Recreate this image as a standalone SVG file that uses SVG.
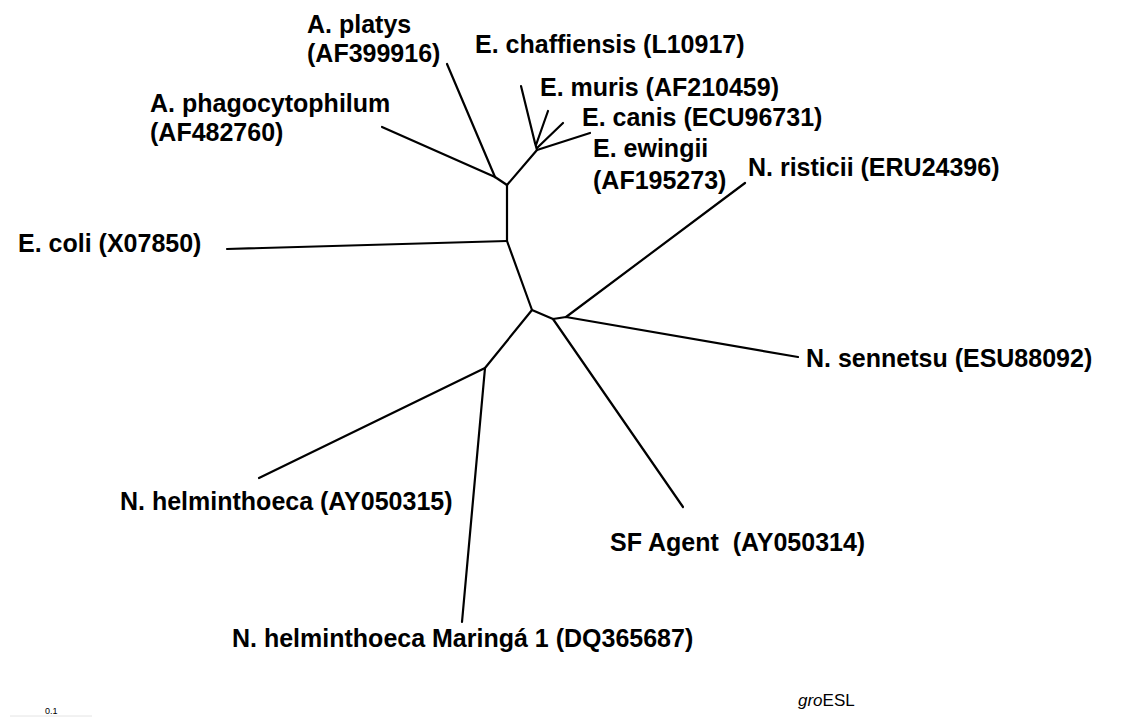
<svg xmlns="http://www.w3.org/2000/svg" width="1130" height="718" viewBox="0 0 1130 718">
<style>
.lbl{font-family:"Liberation Sans",Arial,sans-serif;font-weight:bold;font-size:25px;fill:#000}
.br{stroke:#000;stroke-width:2.2;fill:none;stroke-linecap:round;stroke-linejoin:round}
.small{font-family:"Liberation Sans",Arial,sans-serif;fill:#000}
</style>
<rect width="1130" height="718" fill="#fff"/>
<g id="connectors" class="br">
<line x1="447" y1="64" x2="495" y2="177"/>
<line x1="382" y1="127" x2="495" y2="177"/>
<line x1="495" y1="177" x2="507" y2="185"/>
<line x1="507" y1="185" x2="537" y2="150"/>
<line x1="521" y1="86" x2="535" y2="143"/>
<line x1="535" y1="143" x2="537" y2="150"/>
<line x1="536" y1="145" x2="548" y2="111"/>
<line x1="537" y1="148" x2="563" y2="123"/>
<line x1="537" y1="150" x2="590" y2="133"/>
<line x1="507" y1="185" x2="507" y2="241"/>
<line x1="227" y1="249" x2="507" y2="241"/>
<line x1="507" y1="241" x2="532" y2="310"/>
<line x1="532" y1="310" x2="553" y2="319"/>
<line x1="553" y1="319" x2="566" y2="317"/>
<line x1="566" y1="317" x2="745" y2="183"/>
<line x1="566" y1="317" x2="798" y2="357"/>
<line x1="553" y1="319" x2="683" y2="507"/>
<line x1="532" y1="310" x2="485" y2="368"/>
<line x1="485" y1="368" x2="259" y2="478"/>
<line x1="485" y1="368" x2="462" y2="622"/>
</g>
<g id="n-platys"><text class="lbl" x="307" y="33">A. platys</text><text class="lbl" x="307" y="62">(AF399916)</text></g>
<g id="n-chaffiensis"><text class="lbl" x="475" y="53">E. chaffiensis (L10917)</text></g>
<g id="n-muris"><text class="lbl" x="540" y="96">E. muris (AF210459)</text></g>
<g id="n-canis"><text class="lbl" x="582" y="126">E. canis (ECU96731)</text></g>
<g id="n-ewingii"><text class="lbl" x="593" y="157">E. ewingii</text><text class="lbl" x="593" y="189">(AF195273)</text></g>
<g id="n-phago"><text class="lbl" x="150" y="112">A. phagocytophilum</text><text class="lbl" x="150" y="141">(AF482760)</text></g>
<g id="n-risticii"><text class="lbl" x="748" y="176">N. risticii (ERU24396)</text></g>
<g id="n-coli"><text class="lbl" x="18" y="252">E. coli (X07850)</text></g>
<g id="n-sennetsu"><text class="lbl" x="806" y="367">N. sennetsu (ESU88092)</text></g>
<g id="n-helminthoeca"><text class="lbl" x="120" y="510">N. helminthoeca (AY050315)</text></g>
<g id="n-sf"><text class="lbl" x="610" y="551" xml:space="preserve">SF Agent  (AY050314)</text></g>
<g id="n-maringa"><text class="lbl" x="232" y="647" font-size="26">N. helminthoeca Maringá 1 (DQ365687)</text></g>
<g id="title"><text class="small" x="798" y="706" font-size="17"><tspan font-style="italic">gro</tspan>ESL</text></g>
<g id="scale"><text class="small" x="45" y="714" font-size="9">0.1</text><line x1="10" y1="716" x2="92" y2="716" stroke="#e4e4e4" stroke-width="1"/></g>
</svg>
